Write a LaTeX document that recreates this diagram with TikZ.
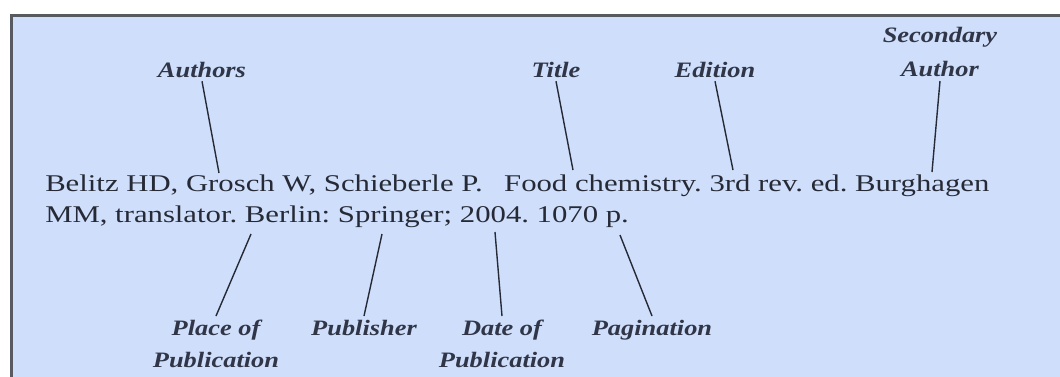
\documentclass[tikz,border=0pt]{standalone}
\usepackage{fontspec}
\setmainfont{Liberation Serif}
\definecolor{bgblue}{RGB}{207,222,250}
\definecolor{framegray}{RGB}{88,90,98}
\definecolor{ink}{RGB}{38,42,54}
\definecolor{labink}{RGB}{48,54,72}
\begin{document}
\begin{tikzpicture}[x=1pt,y=-1pt,
  maintext/.style={anchor=base west, inner sep=0pt, xscale=1.28, text=ink,
    font=\fontsize{24}{31}\selectfont\frenchspacing},
  lbl/.style={inner sep=0pt, outer sep=4pt, xscale=1.2, text=labink, align=center,
    font=\fontsize{22}{32}\selectfont\bfseries\itshape},
  conn/.style={draw=ink, line width=1.4pt}]
\useasboundingbox (0,0) rectangle (1060,376);
\clip (0,0) rectangle (1060,376);
\fill[white] (0,0) rectangle (1060,376);
\draw[fill=bgblue, draw=framegray, line width=3pt] (11.5,15.5) rectangle (1090,400);

% citation text
\node[maintext] (line1) at (45,191) {Belitz HD, Grosch W, Schieberle P.\hspace{0.7em}Food chemistry. 3rd rev. ed. Burghagen};
\node[maintext] (line2) at (45,222) {MM, translator. Berlin: Springer; 2004. 1070 p.};

% labels above
\node[lbl, anchor=base] (authors) at (202,77) {Authors};
\node[lbl, anchor=base] (title) at (556,77) {Title};
\node[lbl, anchor=base] (edition) at (715,77) {Edition};
\node[lbl, anchor=south, font=\fontsize{22}{34}\selectfont\bfseries\itshape] (second) at (940,81) {Secondary\\Author};

% labels below
\node[lbl, anchor=north] (place) at (216,316) {Place of\\Publication};
\node[lbl, anchor=north] (publisher) at (364,316) {Publisher};
\node[lbl, anchor=north] (date) at (502,316) {Date of\\Publication};
\node[lbl, anchor=north] (pagination) at (652,316) {Pagination};

% points on the citation text
\coordinate (tAuthors) at (219,173);
\coordinate (tTitle) at (573,170);
\coordinate (tEdition) at (733,170);
\coordinate (tSecond) at (932,172);
\coordinate (tPlace) at (251,234);
\coordinate (tPublisher) at (382,234);
\coordinate (tDate) at (495,232);
\coordinate (tPagination) at (620,235);

% connectors
\draw[conn] (authors.south) -- (tAuthors);
\draw[conn] (title.south) -- (tTitle);
\draw[conn] (edition.south) -- (tEdition);
\draw[conn] (second.south) -- (tSecond);
\draw[conn] (tPlace) -- (place.north);
\draw[conn] (tPublisher) -- (publisher.north);
\draw[conn] (tDate) -- (date.north);
\draw[conn] (tPagination) -- (pagination.north);
\end{tikzpicture}
\end{document}
